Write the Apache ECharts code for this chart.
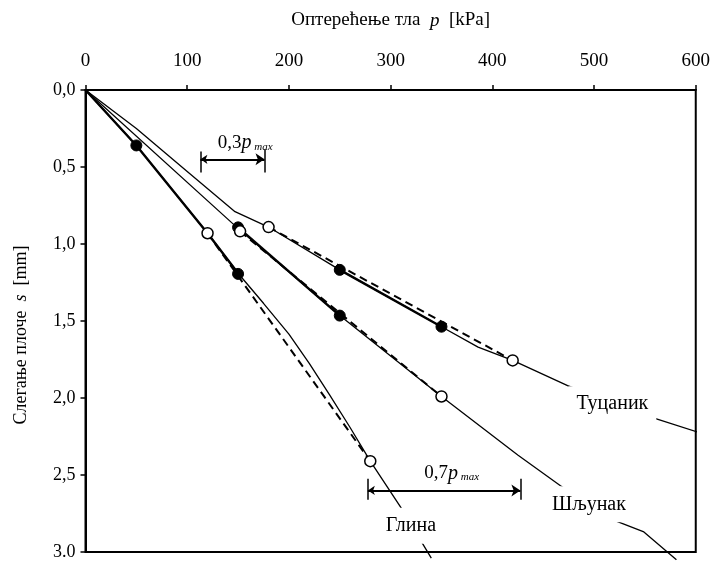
<!DOCTYPE html>
<html>
<head>
<meta charset="utf-8">
<script src="https://cdn.jsdelivr.net/npm/echarts@6/dist/echarts.min.js"></script>
<style>
  html, body { margin: 0; padding: 0; background: #fff; }
  #chart { width: 713px; height: 561px; }
</style>
</head>
<body>
<div id="chart"></div>
<script>
// tick labels
const xTickLabels = ['0', '100', '200', '300', '400', '500', '600']
const yTickLabels = ['0,0', '0,5', '1,0', '1,5', '2,0', '2,5', '3.0']

// full load-settlement curves [p kPa, s mm]
const glinaCurve = [[0, 0], [50, 0.36], [120, 0.93], [150, 1.19], [175, 1.385], [200, 1.585], [220, 1.775], [240, 1.98], [260, 2.19], [280, 2.41], [310, 2.71], [340, 3.04]]
const sljunakCurve = [[0, 0], [151, 0.905], [250, 1.465], [350, 1.99], [425, 2.37], [467, 2.57], [518, 2.79], [549, 2.87], [581, 3.05]]
const tucanikCurve = [[0, 0], [50, 0.25], [100, 0.53], [147, 0.79], [180, 0.89], [250, 1.168], [350, 1.537], [386, 1.67], [420, 1.756], [474, 1.92], [559, 2.13], [606, 2.23]]

// thicker segments through the filled points
const glinaThick = [[0, 0], [50, 0.36], [120, 0.93], [150, 1.19]]
const sljunakThick = [[150, 0.892], [250, 1.465]]
const tucanikThick = [[250, 1.168], [350, 1.537]]

// dashed lines between open points
const glinaDashed = [[120, 0.93], [280, 2.41]]
const sljunakDashed = [[152, 0.918], [350, 1.99]]
const tucanikDashed = [[180, 0.89], [420, 1.756]]

// markers
const filledPoints = [[50, 0.36], [150, 1.194], [150, 0.892], [250, 1.465], [250, 1.168], [350, 1.537]]
const openPoints = [[120, 0.93], [280, 2.41], [152, 0.918], [350, 1.99], [180, 0.89], [420, 1.756]]

// curve names and where they sit
const soilLabels = [['Глина', 320, 2.83], ['Шљунак', 495, 2.69], ['Туцаник', 518, 2.04]]

// 0,3 pmax and 0,7 pmax dimension arrows
const arrows = [[[113, 0.45], [176, 0.45]], [[277.6, 2.6], [427.6, 2.6]]]
const arrowBars = [[[113, 0.40], [113, 0.535]], [[176, 0.385], [176, 0.535]], [[277.6, 2.525], [277.6, 2.66]], [[427.6, 2.525], [427.6, 2.66]]]
const arrowLabels = [['0,3', 157, 0.345], ['0,7', 360, 2.49]]

const font = 'Liberation Serif'
const black = '#000'

let myChart = echarts.init(document.getElementById('chart'))

function thin(data) {
  return { type: 'line', data, symbol: 'none', clip: false, lineStyle: { color: black, width: 1.3 }, z: 3 }
}
function thick(data) {
  return { type: 'line', data, symbol: 'none', lineStyle: { color: black, width: 2.4 }, z: 3 }
}
function dashed(data) {
  return { type: 'line', data, symbol: 'none', lineStyle: { color: black, width: 2, type: [8, 5] }, z: 3 }
}

const option = {
  animation: false,
  backgroundColor: '#fff',
  grid: { left: 85.5, right: 15, top: 90, bottom: 7, show: true, borderColor: black, borderWidth: 2, backgroundColor: 'transparent' },
  xAxis: {
    type: 'value', position: 'top', min: 0, max: 600, interval: 100,
    name: 'Оптерећење тла  {i|p}  [kPa]', nameLocation: 'middle', nameGap: 60,
    nameTextStyle: { fontFamily: font, fontSize: 19, color: black, rich: { i: { fontFamily: font, fontSize: 19, fontStyle: 'italic', color: black } } },
    axisLine: { lineStyle: { color: black, width: 2 } },
    axisTick: { inside: false, length: 5, lineStyle: { color: black, width: 1.5 } },
    axisLabel: { fontFamily: font, fontSize: 19, color: black, margin: 19, formatter: (v, i) => xTickLabels[i] },
    splitLine: { show: false }
  },
  yAxis: {
    type: 'value', inverse: true, min: 0, max: 3, interval: 0.5,
    name: 'Слегање плоче  {i|s}  [mm]', nameLocation: 'middle', nameGap: 55, nameRotate: 90,
    nameTextStyle: { fontFamily: font, fontSize: 18, color: black, padding: [0, 28, 0, 0], rich: { i: { fontFamily: font, fontSize: 18, fontStyle: 'italic', color: black } } },
    axisLine: { lineStyle: { color: black, width: 2 } },
    axisTick: { inside: false, length: 5, lineStyle: { color: black, width: 1.5 } },
    axisLabel: { fontFamily: font, fontSize: 18, color: black, margin: 10, formatter: (v, i) => yTickLabels[i] },
    splitLine: { show: false }
  },
  series: [
    thin(glinaCurve), thin(sljunakCurve), thin(tucanikCurve),
    thick(glinaThick), thick(sljunakThick), thick(tucanikThick),
    dashed(glinaDashed), dashed(sljunakDashed), dashed(tucanikDashed),
    {
      type: 'lines', coordinateSystem: 'cartesian2d', z: 4,
      symbol: ['arrow', 'arrow'], symbolSize: [7, 9],
      lineStyle: { color: black, width: 2, opacity: 1 },
      data: arrows.map(c => ({ coords: c }))
    },
    {
      type: 'lines', coordinateSystem: 'cartesian2d', z: 4,
      lineStyle: { color: black, width: 1.5, opacity: 1 },
      data: arrowBars.map(c => ({ coords: c }))
    },
    {
      type: 'scatter', z: 5, symbolSize: 11, clip: false,
      itemStyle: { color: black, borderColor: black, borderWidth: 1, opacity: 1 },
      data: filledPoints
    },
    {
      type: 'scatter', z: 5, symbolSize: 11, clip: false,
      itemStyle: { color: '#fff', borderColor: black, borderWidth: 1.5, opacity: 1 },
      data: openPoints
    },
    {
      type: 'scatter', z: 10, symbolSize: 0, clip: false,
      itemStyle: { opacity: 1 },
      label: {
        show: true, position: 'inside', formatter: p => p.data[2],
        fontFamily: font, fontSize: 20, color: black, backgroundColor: '#fff', padding: [8, 8]
      },
      data: soilLabels.map(d => [d[1], d[2], d[0]])
    },
    {
      type: 'scatter', z: 10, symbolSize: 0, clip: false,
      itemStyle: { opacity: 1 },
      label: {
        show: true, position: 'inside', formatter: p => p.data[2] + '{i|p}{s| max}',
        fontFamily: font, fontSize: 19, color: black,
        rich: {
          i: { fontFamily: font, fontSize: 20, fontStyle: 'italic', color: black },
          s: { fontFamily: font, fontSize: 11, fontStyle: 'italic', color: black, padding: [7, 0, 0, 0] }
        }
      },
      data: arrowLabels.map(d => [d[1], d[2], d[0]])
    }
  ]
}

myChart.setOption(option)
</script>
</body>
</html>
